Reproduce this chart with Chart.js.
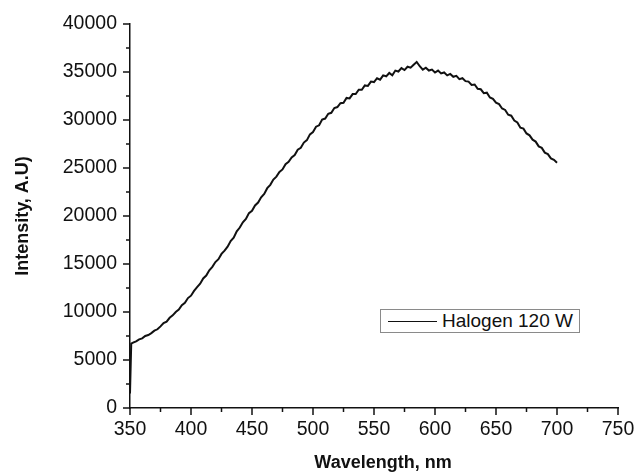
<!DOCTYPE html>
<html>
<head>
<meta charset="utf-8">
<script src="https://cdn.jsdelivr.net/npm/chart.js@4/dist/chart.umd.min.js"></script>
<style>
  html, body { margin: 0; padding: 0; background: #fff; }
  #wrap { position: relative; width: 637px; height: 476px; }
  #legend { position: absolute; left: 380px; top: 309px; width: 200px; height: 24px;
    border: 1px solid #8a8a8a; box-sizing: border-box; display: flex; align-items: center; white-space: nowrap;
    font-family: "Liberation Sans", Arial, sans-serif; font-size: 19px; color: #111; background: #fff; }
  #legend .sw { width: 49px; height: 0; border-top: 1.6px solid #111; margin-left: 7px; margin-right: 5px; }
  #xtitle { position: absolute; left: 283px; width: 200px; top: 451px; text-align: center; white-space: nowrap;
    font-family: "Liberation Sans", Arial, sans-serif; font-size: 18px; font-weight: bold; color: #111; line-height: 22px; }
</style>
</head>
<body>
<div id="wrap">
  <canvas id="c" width="637" height="476"></canvas>
  <div id="legend"><span class="sw"></span><span id="legtext"></span></div>
  <div id="xtitle"></div>
</div>
<script>
const wavelength = [350, 351, 352.5, 355, 357.5, 360, 362.5, 365, 367.5, 370, 372.5, 375, 377.5, 380, 382.5, 385, 387.5, 390, 392.5, 395, 397.5,
  400, 402.5, 405, 407.5, 410, 412.5, 415, 417.5, 420, 422.5, 425, 427.5, 430, 432.5, 435, 437.5, 440, 442.5, 445, 447.5,
  450, 452.5, 455, 457.5, 460, 462.5, 465, 467.5, 470, 472.5, 475, 477.5, 480, 482.5, 485, 487.5, 490, 492.5, 495, 497.5,
  500, 502.5, 505, 507.5, 510, 512.5, 515, 517.5, 520, 522.5, 525, 527.5, 530, 532.5, 535, 537.5, 540, 542.5, 545, 547.5,
  550, 552.5, 555, 557.5, 560, 562.5, 565, 567.5, 570, 572.5, 575, 577.5, 580, 582.5, 585, 587.5, 590, 592.5, 595, 597.5,
  600, 602.5, 605, 607.5, 610, 612.5, 615, 617.5, 620, 622.5, 625, 627.5, 630, 632.5, 635, 637.5, 640, 642.5, 645, 647.5,
  650, 652.5, 655, 657.5, 660, 662.5, 665, 667.5, 670, 672.5, 675, 677.5, 680, 682.5, 685, 687.5, 690, 692.5, 695, 697.5, 700];
const intensity = [1500, 6700, 6800, 6950, 7150, 7250, 7500, 7600, 7800, 8050, 8200, 8500, 8850, 9000, 9400, 9650, 10000, 10250, 10700, 10950, 11450,
  11700, 12200, 12600, 12950, 13500, 13800, 14350, 14700, 15200, 15500, 16050, 16400, 16800, 17400, 17750, 18400, 18800, 19350, 19700, 20300,
  20550, 21100, 21400, 21950, 22300, 22900, 23250, 23800, 24100, 24600, 24850, 25400, 25650, 26100, 26350, 26900, 27100, 27650, 27900, 28500,
  28750, 29300, 29450, 30050, 30150, 30650, 30750, 31250, 31350, 31750, 31800, 32300, 32250, 32700, 32700, 33150, 33150, 33600, 33550, 34000,
  33950, 34350, 34200, 34650, 34550, 34900, 34650, 35150, 35050, 35400, 35200, 35550, 35450, 35750, 36050, 35600, 35250, 35450, 35150, 35250,
  34950, 35150, 34850, 34950, 34650, 34800, 34500, 34600, 34250, 34350, 34050, 34000, 33650, 33700, 33250, 33200, 32800, 32850, 32350, 32200,
  31800, 31650, 31200, 31050, 30550, 30450, 29950, 29750, 29200, 29100, 28600, 28400, 27950, 27750, 27250, 27100, 26600, 26450, 26000, 25850, 25550];
const seriesName = 'Halogen 120 W';
const xTitle = 'Wavelength, nm';
const yTitle = 'Intensity, A.U)';
const xTicks = [350, 400, 450, 500, 550, 600, 650, 700, 750];
const yTicks = [0, 5000, 10000, 15000, 20000, 25000, 30000, 35000, 40000];

const FONT = '"Liberation Sans", Arial, sans-serif';

const tickPlugin = {
  id: 'outTicks',
  afterDraw(chart) {
    const ctx = chart.ctx;
    const xs = chart.scales.x, ys = chart.scales.y;
    ctx.save();
    ctx.strokeStyle = '#111';
    ctx.lineWidth = 1.5;
    for (let v = xs.min; v <= xs.max; v += 25) {
      const px = xs.getPixelForValue(v);
      const len = (v % 50 === 0) ? 7 : 4;
      ctx.beginPath(); ctx.moveTo(px, ys.bottom); ctx.lineTo(px, ys.bottom + len); ctx.stroke();
    }
    for (let v = ys.min; v <= ys.max; v += 2500) {
      const py = ys.getPixelForValue(v);
      const len = (v % 5000 === 0) ? 7 : 4;
      ctx.beginPath(); ctx.moveTo(xs.left, py); ctx.lineTo(xs.left - len, py); ctx.stroke();
    }
    ctx.restore();
  }
};

const chart = new Chart(document.getElementById('c'), {
  type: 'line',
  data: {
    datasets: [{
      label: seriesName,
      data: wavelength.map((w, i) => ({ x: w, y: intensity[i] })),
      borderColor: '#111',
      borderWidth: 2,
      pointRadius: 0,
      tension: 0,
      fill: false
    }]
  },
  options: {
    responsive: false,
    animation: false,
    layout: { padding: { top: 24, right: 19, left: 0, bottom: 0 } },
    plugins: { legend: { display: false }, tooltip: { enabled: false } },
    scales: {
      x: {
        type: 'linear', min: 350, max: 750,
        afterBuildTicks: s => { s.ticks = xTicks.map(v => ({ value: v })); },
        afterFit: s => { s.height = 68; s.paddingLeft = 0; s.paddingRight = 0; },
        grid: { display: false, drawTicks: false },
        border: { display: true, color: '#111', width: 1.5 },
        ticks: { color: '#111', font: { family: FONT, size: 19.5 }, padding: 10, maxRotation: 0, callback: v => String(v) },
        title: { display: false, text: xTitle }
      },
      y: {
        type: 'linear', min: 0, max: 40000,
        afterBuildTicks: s => { s.ticks = yTicks.map(v => ({ value: v })); },
        afterFit: s => { s.width = 130; s.paddingTop = 0; s.paddingBottom = 0; },
        grid: { display: false, drawTicks: false },
        border: { display: true, color: '#111', width: 1.5 },
        ticks: { color: '#111', font: { family: FONT, size: 19.5 }, padding: 13, callback: v => String(v) },
        title: { display: true, text: yTitle, color: '#111', font: { family: FONT, size: 18, weight: 'bold' }, padding: { top: 12, bottom: 0 } }
      }
    }
  },
  plugins: [tickPlugin]
});
document.getElementById('legtext').textContent = chart.data.datasets[0].label;
document.getElementById('xtitle').textContent = chart.options.scales.x.title.text;
</script>
</body>
</html>
